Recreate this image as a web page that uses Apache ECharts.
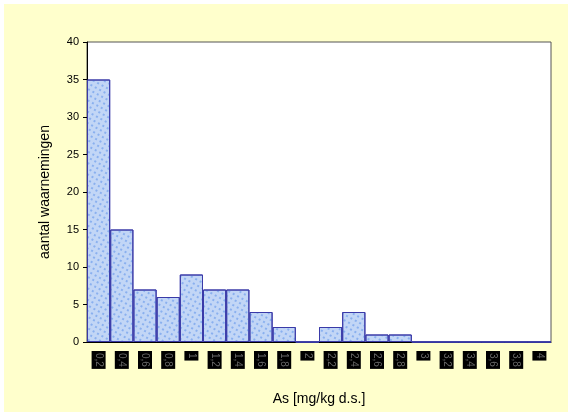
<!DOCTYPE html>
<html><head><meta charset="utf-8">
<script src="https://cdn.jsdelivr.net/npm/echarts@6/dist/echarts.min.js"></script>
<style>html,body{margin:0;padding:0;background:#fff}#c{width:572px;height:416px}</style>
</head><body><div id="c"></div>
<script>
const categories = ["0,2","0,4","0,6","0,8","1","1,2","1,4","1,6","1,8","2","2,2","2,4","2,6","2,8","3","3,2","3,4","3,6","3,8","4"];
const counts = [35,15,7,6,9,7,7,4,2,0,2,4,1,1,0,0,0,0,0,0];
const yTicks = {min:0, max:40, interval:5};

const chart = echarts.init(document.getElementById('c'), null, {renderer:'canvas'});
chart.setOption({
  backgroundColor:'#fff',
  animation:false,
  graphic:[{type:'rect', z:-10, shape:{x:4,y:4,width:564,height:408}, style:{fill:'#FFFFCC'}}],
  grid:{left:87, top:42, right:21, bottom:74, show:true, backgroundColor:'#fff', borderColor:'#555', borderWidth:1},
  xAxis:{
    type:'category', data:categories,
    name:'As [mg/kg d.s.]', nameLocation:'middle', nameGap:50,
    nameTextStyle:{fontFamily:'Liberation Sans', fontSize:14, color:'#000'},
    axisLine:{lineStyle:{color:'#000', width:1}},
    axisTick:{show:false},
    axisLabel:{rotate:-90, interval:0, fontFamily:'Liberation Sans', fontSize:10, color:'#666', backgroundColor:'#000', padding:[2,2,2,2], margin:9}
  },
  yAxis:{
    type:'value', min:yTicks.min, max:yTicks.max, interval:yTicks.interval,
    name:'aantal waarnemingen', nameLocation:'middle', nameGap:35,
    nameTextStyle:{fontFamily:'Liberation Sans', fontSize:14, color:'#000'},
    axisLine:{show:true, lineStyle:{color:'#000', width:1}},
    axisTick:{show:true, length:4, lineStyle:{color:'#000'}},
    axisLabel:{fontFamily:'Liberation Sans', fontSize:11, color:'#000', margin:8},
    splitLine:{show:false}
  },
  series:[{
    type:'bar', data:counts, barCategoryGap:'0%',
    itemStyle:{color:'#c2d6f6', borderColor:'#3a3aa8', borderWidth:1,
      decal:{symbol:'circle', symbolSize:1, color:'rgba(70,130,230,0.6)', dashArrayX:[2,3], dashArrayY:[2,3], rotation:0.5}}
  }]
});
</script></body></html>
